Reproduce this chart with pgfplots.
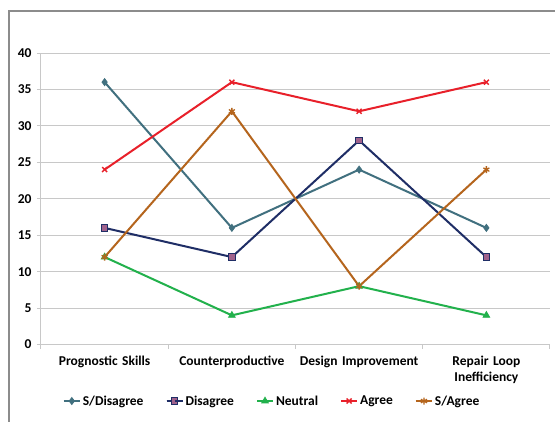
\documentclass[border=0pt]{standalone}
\usepackage{pgfplots}
\pgfplotsset{compat=1.18}
\usepackage{fontspec}
\setmainfont{Carlito}
\definecolor{sdis}{HTML}{41707F}
\definecolor{dis}{HTML}{1F2E66}
\definecolor{disfill}{HTML}{A0628C}
\definecolor{neu}{HTML}{22B14C}
\definecolor{agr}{HTML}{E8202A}
\definecolor{sagr}{HTML}{B5651D}
\definecolor{gridgray}{HTML}{C8C8C8}
\begin{document}
\begin{tikzpicture}[x=1pt,y=1pt]
\clip (0,0) rectangle (555,421);
\fill[white] (0,0) rectangle (555,421);
% outer chart frame
\draw[line width=1.8pt, gray!90] (9,-10) -- (9,410) -- (570,410);
\begin{axis}[
  at={(41pt,76.5pt)}, anchor=south west,
  scale only axis, width=509pt, height=291.5pt,
  xmin=-0.5, xmax=3.5, ymin=0, ymax=40,
  ytick={0,5,...,40},
  xtick={0,1,2,3},
  xticklabels={Prognostic Skills,Counterproductive,Design Improvement,{Repair Loop\\Inefficiency}},
  x tick label style={align=center, text width=125pt, font=\fontsize{13.5}{15.5}\selectfont\bfseries, yshift=-4pt},
  y tick label style={font=\fontsize{13.5}{15.5}\selectfont\bfseries, xshift=-2pt},
  /pgf/number format/assume math mode=true,
  major x tick style={draw=none},
  minor xtick={-0.5,0.5,1.5,2.5,3.5},
  minor x tick style={draw=gridgray, line width=1pt},
  minor tick length=4pt,
  major tick length=4pt,
  y tick style={draw=gridgray, line width=1pt},
  tick align=outside,
  ymajorgrids, grid style={gridgray, line width=1pt},
  axis x line*=bottom, axis y line*=left,
  axis line style={gridgray, line width=1pt},
  x axis line style={-}, y axis line style={-},
  legend style={at={(0.454,-0.194)}, anchor=center, draw=none, fill=none,
    legend columns=5, font=\fontsize{13.5}{15.5}\selectfont\bfseries,
    /tikz/every even column/.append style={column sep=20pt}},
  legend cell align=left,
  legend image code/.code={
    \draw[#1] (0pt,0pt) -- (8pt,0pt);
    \draw[#1, mark repeat=2, mark phase=2] plot coordinates {(0pt,0pt) (8pt,0pt) (16pt,0pt)};
    \draw[#1] (8pt,0pt) -- (16pt,0pt);},
  every axis plot/.append style={line width=2pt},
]
\addplot[sdis, mark=diamond*, mark size=3.5pt, mark options={fill=sdis, line width=0.8pt}]
  coordinates {(0,36) (1,16) (2,24) (3,16)};
\addlegendentry{S/Disagree}
\addplot[dis, mark=square*, mark size=3.2pt, mark options={fill=disfill, draw=dis, line width=1pt}]
  coordinates {(0,16) (1,12) (2,28) (3,12)};
\addlegendentry{Disagree}
\addplot[neu, mark=triangle*, mark size=3.8pt, mark options={fill=neu, line width=0.8pt}]
  coordinates {(0,12) (1,4) (2,8) (3,4)};
\addlegendentry{Neutral}
\addplot[agr, mark=x, mark size=3.5pt, mark options={line width=1.4pt}]
  coordinates {(0,24) (1,36) (2,32) (3,36)};
\addlegendentry{Agree}
\addplot[sagr, mark=asterisk, mark size=3.5pt, mark options={line width=1.3pt}]
  coordinates {(0,12) (1,32) (2,8) (3,24)};
\addlegendentry{S/Agree}
\end{axis}
\end{tikzpicture}
\end{document}
